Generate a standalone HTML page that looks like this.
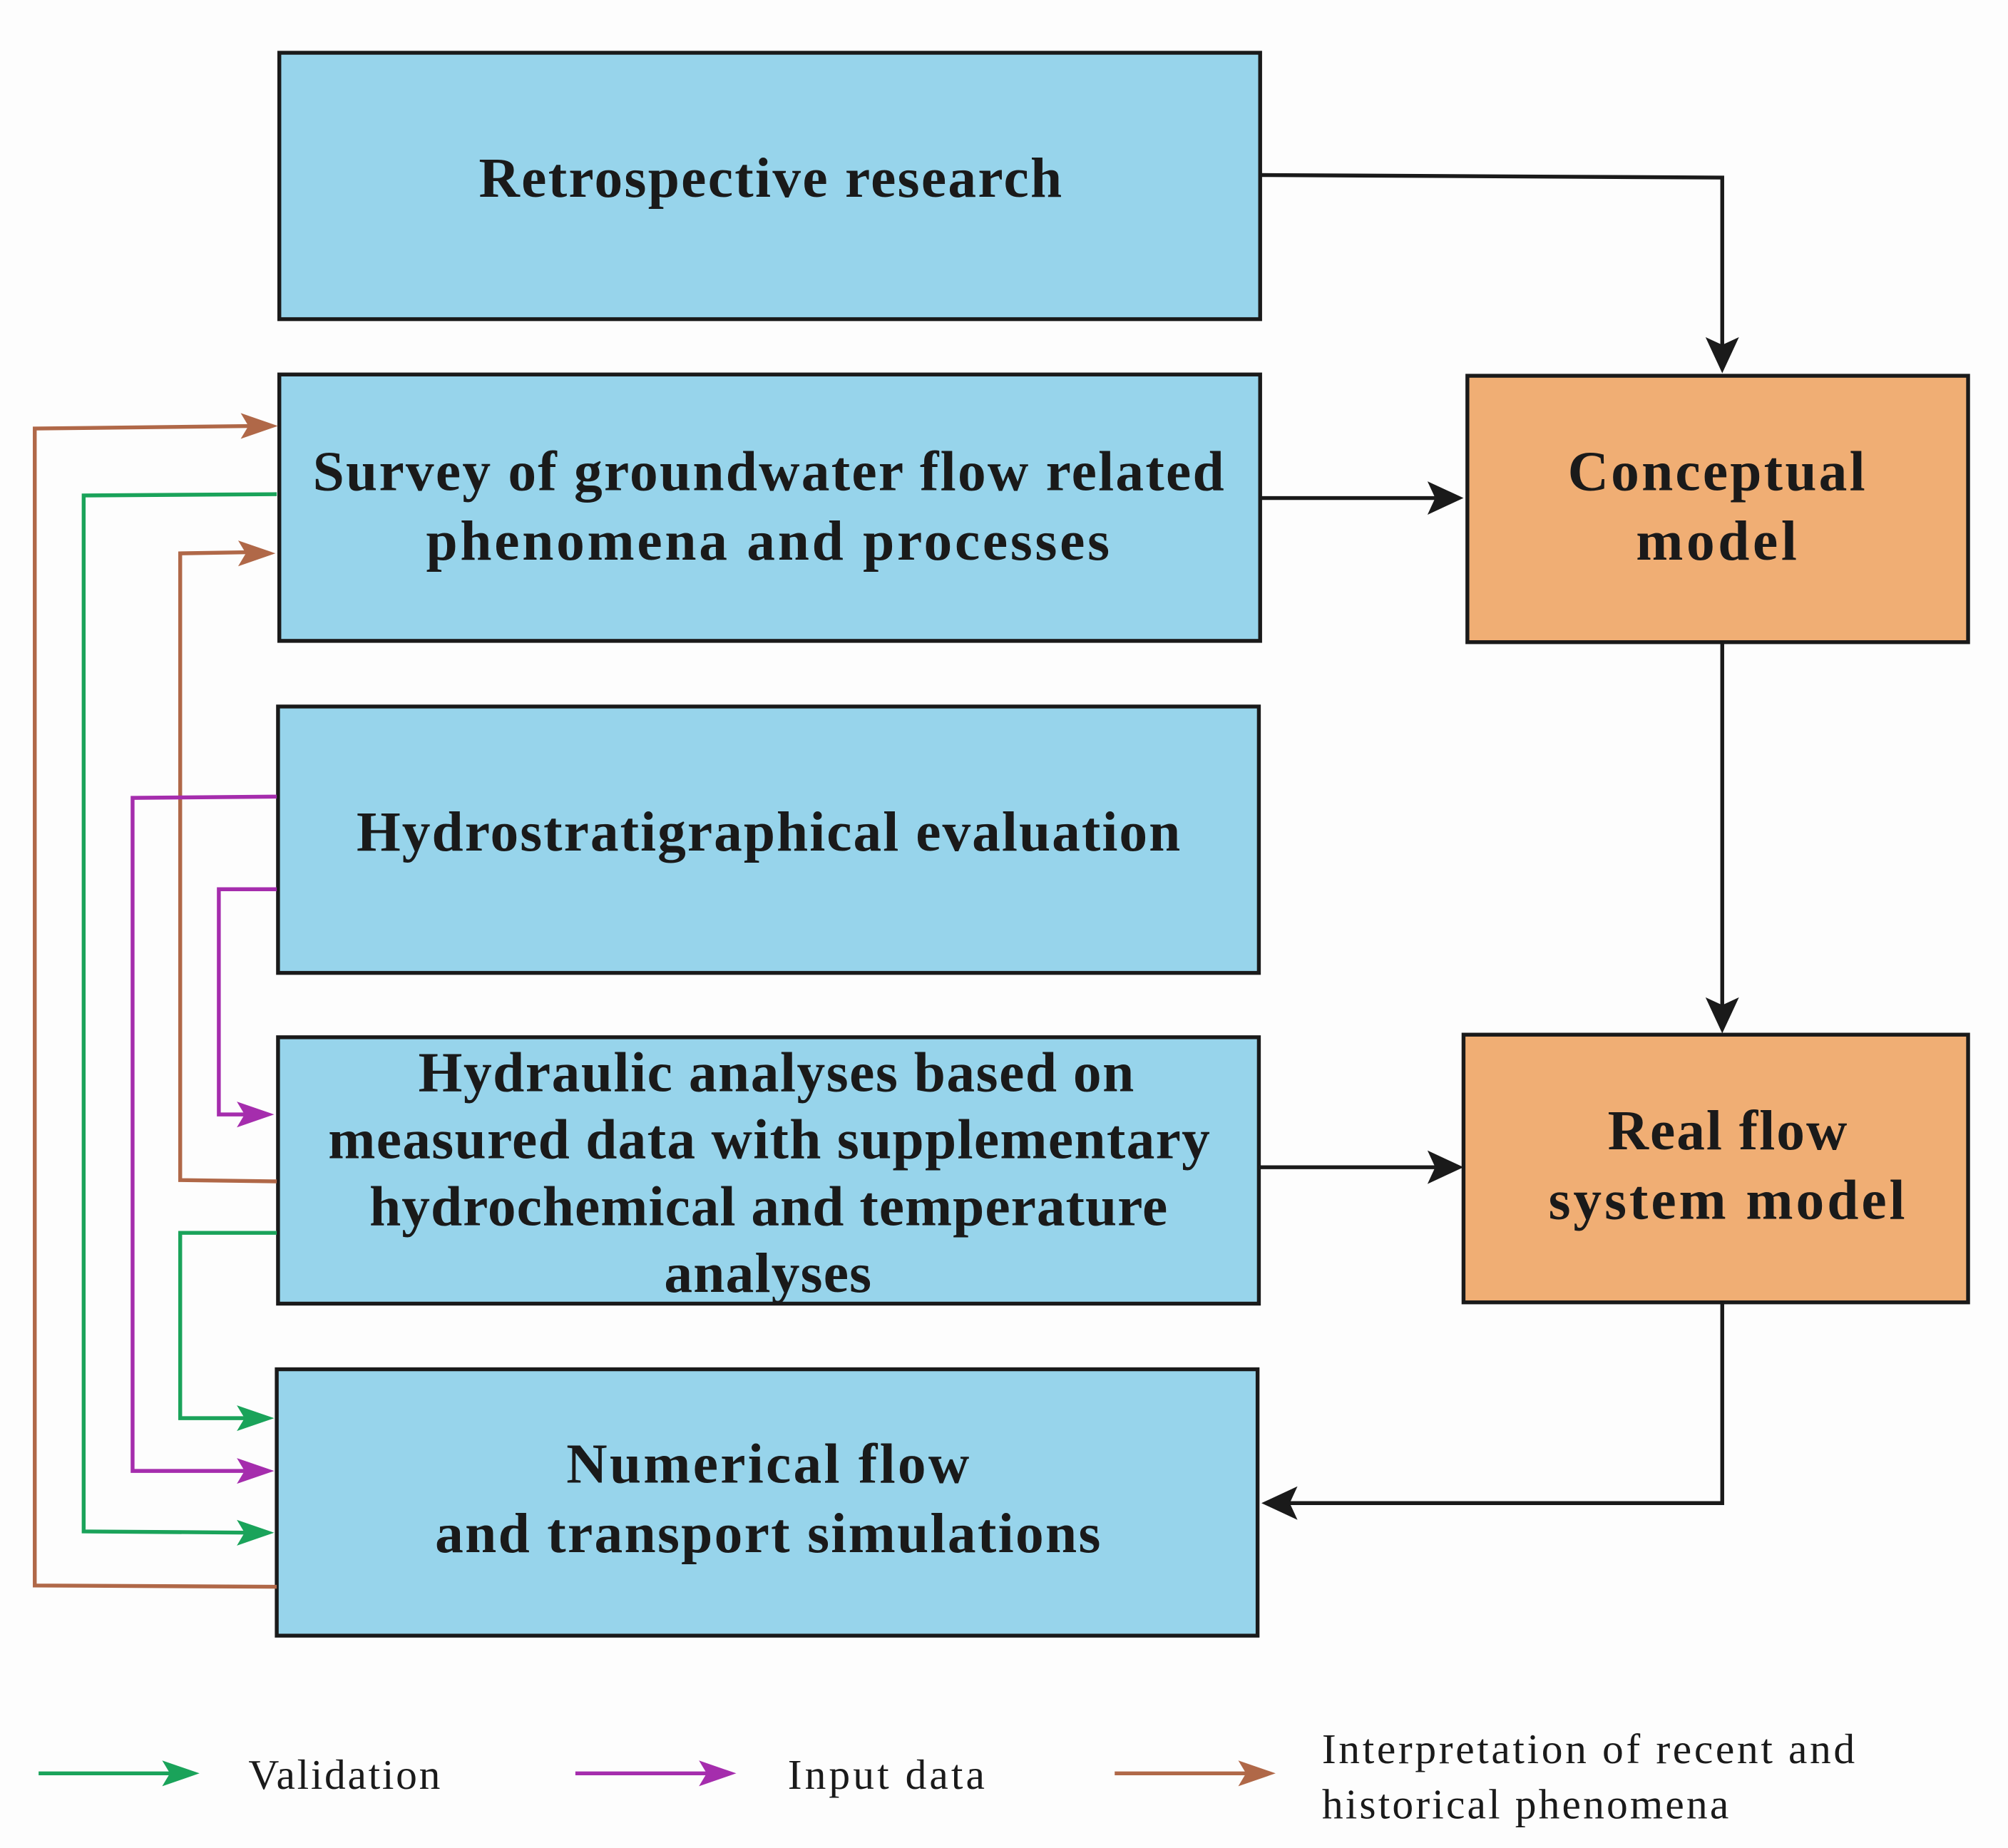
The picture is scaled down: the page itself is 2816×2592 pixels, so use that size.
<!DOCTYPE html>
<html><head><meta charset="utf-8"><style>html,body{margin:0;padding:0;background:#fdfdfd}svg{display:block}</style></head>
<body>
<svg width="2816" height="2592" viewBox="0 0 1560 1436" preserveAspectRatio="none" xmlns="http://www.w3.org/2000/svg">
<rect width="1560" height="1436" fill="#fdfdfd"/>
<g fill="#97d4eb" stroke="#1a1a1a" stroke-width="3">
<rect x="217" y="41" width="762" height="207"/>
<rect x="217" y="291" width="762" height="207"/>
<rect x="216" y="549" width="762" height="207"/>
<rect x="216" y="806" width="762" height="207"/>
<rect x="215" y="1064" width="762" height="207"/>
</g>
<g fill="#f0ae74" stroke="#1a1a1a" stroke-width="3">
<rect x="1140" y="292" width="389" height="207"/>
<rect x="1137" y="804" width="392" height="208"/>
</g>
<g font-family="Liberation Serif, serif" font-weight="bold" font-size="44" fill="#1a1a1a">
<text x="372" y="153" textLength="453" lengthAdjust="spacing">Retrospective research</text>
<text x="243" y="381" textLength="708" lengthAdjust="spacing">Survey of  groundwater flow related</text>
<text x="331" y="435" textLength="531" lengthAdjust="spacing">phenomena and processes</text>
<text x="277" y="661" textLength="640" lengthAdjust="spacing">Hydrostratigraphical evaluation</text>
<text x="325" y="848" textLength="556" lengthAdjust="spacing">Hydraulic analyses based on</text>
<text x="255" y="900" textLength="685" lengthAdjust="spacing">measured data with supplementary</text>
<text x="287" y="952" textLength="620" lengthAdjust="spacing">hydrochemical and temperature</text>
<text x="516" y="1004" textLength="161" lengthAdjust="spacing">analyses</text>
<text x="440" y="1152" textLength="313" lengthAdjust="spacing">Numerical flow</text>
<text x="338" y="1206" textLength="517" lengthAdjust="spacing">and transport simulations</text>
<text x="1218" y="381" textLength="231" lengthAdjust="spacing">Conceptual</text>
<text x="1271" y="435" textLength="125" lengthAdjust="spacing">model</text>
<text x="1249" y="893" textLength="186" lengthAdjust="spacing">Real flow</text>
<text x="1203" y="947" textLength="277" lengthAdjust="spacing">system model</text>
</g>
<g stroke="#1a1a1a" stroke-width="3" fill="none">
<polyline points="979,136 1338,138 1338,270"/>
<polyline points="979,387 1115,387"/>
<polyline points="1338,499 1338,783"/>
<polyline points="979,907 1115,907"/>
<polyline points="1338,1012 1338,1168 1000,1168"/>
</g>
<g fill="#1a1a1a">
<path d="M1325,262 L1338,290 L1351,262 L1338,268z"/>
<path d="M1325,775 L1338,803 L1351,775 L1338,781z"/>
<path d="M1109,374 L1137,387 L1109,400 L1115,387z"/>
<path d="M1109,894 L1137,907 L1109,920 L1115,907z"/>
<path d="M1008,1155 L980,1168 L1008,1181 L1002,1168z"/>
</g>
<g fill="none" stroke-width="3">
<polyline stroke="#b06848" points="215,1233 27,1232 27,333 200,331"/>
<polyline stroke="#1aa35a" points="215,384 65,385 65,1190 200,1191"/>
<polyline stroke="#b06848" points="215,918 140,917 140,430 200,429"/>
<polyline stroke="#a52dad" points="215,619 103,620 103,1143 200,1143"/>
<polyline stroke="#a52dad" points="215,691 170,691 170,866 200,866"/>
<polyline stroke="#1aa35a" points="215,958 140,958 140,1102 200,1102"/>
<polyline stroke="#1aa35a" points="30,1378 140,1378"/>
<polyline stroke="#a52dad" points="447,1378 557,1378"/>
<polyline stroke="#b06848" points="866,1378 976,1378"/>
</g>
<g>
<path d="M187,321 L216,331 L187,341 L193,331z" fill="#b06848"/>
<path d="M185,420 L214,430 L185,440 L191,430z" fill="#b06848"/>
<path d="M184,856 L213,866 L184,876 L190,866z" fill="#a52dad"/>
<path d="M184,1092 L213,1102 L184,1112 L190,1102z" fill="#1aa35a"/>
<path d="M184,1133 L213,1143 L184,1153 L190,1143z" fill="#a52dad"/>
<path d="M184,1181 L213,1191 L184,1201 L190,1191z" fill="#1aa35a"/>
<path d="M126,1368 L155,1378 L126,1388 L132,1378z" fill="#1aa35a"/>
<path d="M543,1368 L572,1378 L543,1388 L549,1378z" fill="#a52dad"/>
<path d="M962,1368 L991,1378 L962,1388 L968,1378z" fill="#b06848"/>
</g>
<g font-family="Liberation Serif, serif" font-size="33" fill="#1a1a1a">
<text x="193" y="1390" textLength="149" lengthAdjust="spacing">Validation</text>
<text x="612" y="1390" textLength="153" lengthAdjust="spacing">Input data</text>
<text x="1027" y="1370" textLength="414" lengthAdjust="spacing">Interpretation of  recent and</text>
<text x="1027" y="1413" textLength="316" lengthAdjust="spacing">historical phenomena</text>
</g>
</svg>
</body></html>
